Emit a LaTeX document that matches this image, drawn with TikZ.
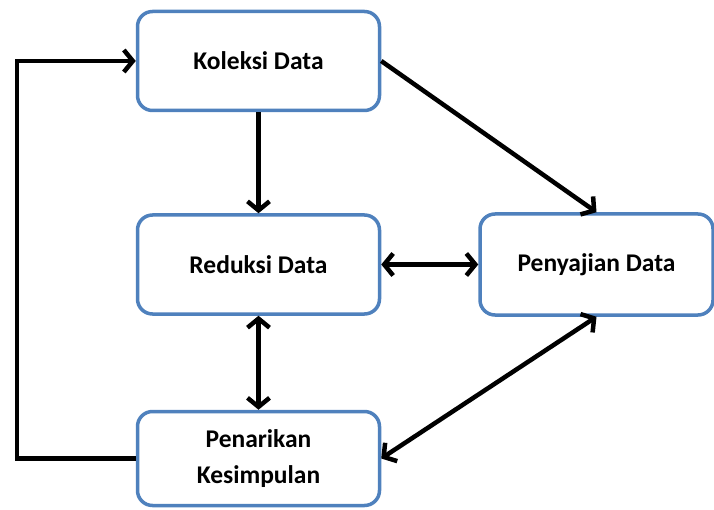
\documentclass[tikz,border=0pt]{standalone}
\usepackage{fontspec}
\setmainfont{Carlito}
\usetikzlibrary{arrows.meta,positioning}
\definecolor{boxblue}{RGB}{79,129,189}
\tikzstyle{block}=[draw=boxblue, line width=3.5pt, rounded corners=15pt, fill=white,
  minimum width=242pt, minimum height=99pt, align=center,
  font=\fontsize{25.5}{36}\selectfont\bfseries]
\tikzstyle{conn}=[line width=4.5pt, line join=miter,
  -{Straight Barb[length=9pt,width=22pt]}]
\tikzstyle{conn2}=[line width=4.5pt,
  {Straight Barb[length=9pt,width=22pt]}-{Straight Barb[length=9pt,width=22pt]}]

\begin{document}
\begin{tikzpicture}[x=1pt,y=1pt]
    \useasboundingbox (0,0) rectangle (714,-510);
    \node [block] (kol) at (258.5,-61) {Koleksi Data};
    \node [block] (red) [below=101pt of kol] {Reduksi Data};
    \node [block, minimum width=233pt, minimum height=101pt] (pyj) [right=97pt of red] {Penyajian Data};
    \node [block, minimum height=94pt] (pen) [below=94pt of red] {Penarikan\\Kesimpulan};
    \coordinate (fb) at (17,-61);
    \draw[conn] (kol) -- (red);
    \draw[conn] (kol.east) -- (pyj.north);
    \draw[conn2] (red) -- (pyj);
    \draw[conn2] (red) -- (pen);
    \draw[conn2] (pyj.south) -- (pen.east);
    \draw[conn] (pen.west) -| (fb) -- (kol.west);
\end{tikzpicture}
\end{document}
